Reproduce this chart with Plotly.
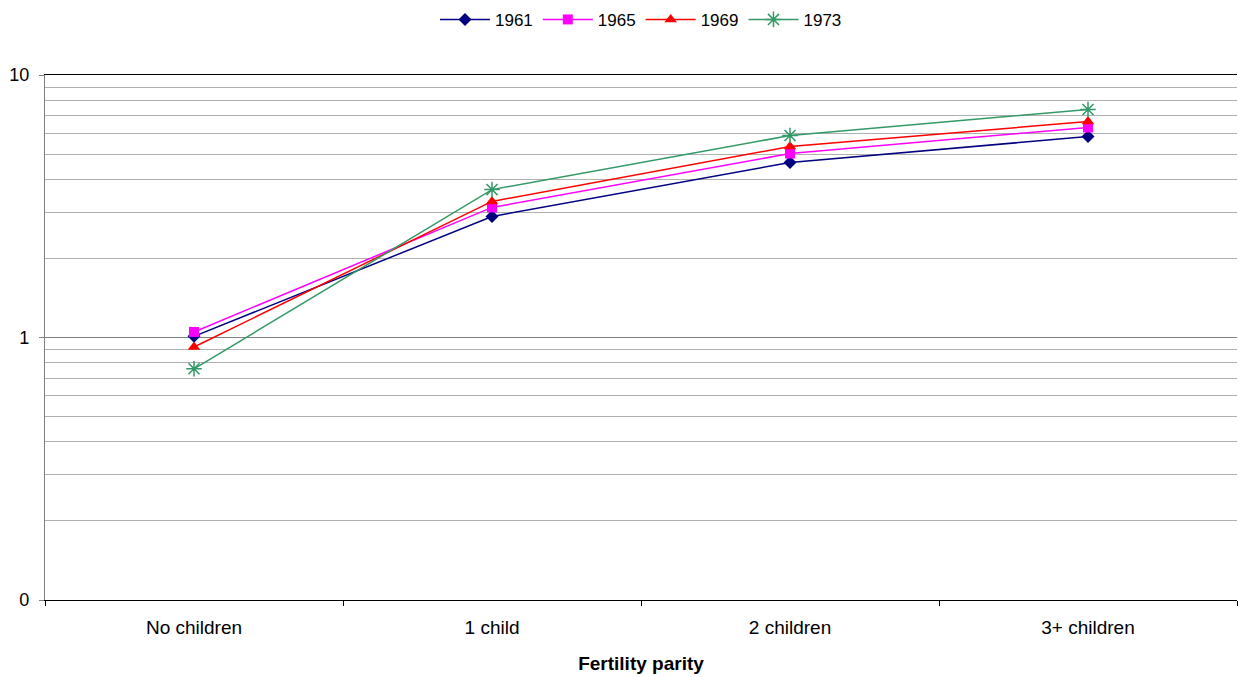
import plotly.graph_objects as go

categories = ["No children", "1 child", "2 children", "3+ children"]
series_names = ["1961", "1965", "1969", "1973"]
values_1961 = [1.01, 2.89, 4.64, 5.83]
values_1965 = [1.05, 3.13, 5.02, 6.31]
values_1969 = [0.92, 3.30, 5.34, 6.65]
values_1973 = [0.76, 3.66, 5.88, 7.39]
y_tickvals = [0.1, 1, 10]
y_ticktext = ["0", "1", "10"]
y_minor = [0.2, 0.3, 0.4, 0.5, 0.6, 0.7, 0.8, 0.9, 2, 3, 4, 5, 6, 7, 8, 9]

colors = ["#000080", "#FF00FF", "#FF0000", "#339966"]
symbols = ["diamond", "square", "triangle-up", "asterisk"]
sizes = [10, 10, 11, 13]
all_values = [values_1961, values_1965, values_1969, values_1973]

fig = go.Figure()
for name, vals, c, s, sz in zip(series_names, all_values, colors, symbols, sizes):
    marker = dict(symbol=s, size=sz, color=c)
    if s == "asterisk":
        marker["line"] = dict(color=c, width=1.5)
    fig.add_trace(go.Scatter(
        x=categories, y=vals, name=name, mode="lines+markers",
        line=dict(color=c, width=1.5), marker=marker,
    ))

fig.update_layout(
    width=1239, height=677,
    paper_bgcolor="white", plot_bgcolor="white",
    margin=dict(l=45, r=2, t=75, b=77, autoexpand=False),
    font=dict(family="Liberation Sans, Arial, sans-serif", size=17, color="black"),
    legend=dict(orientation="h", x=0.5, xanchor="center", y=1.105, yanchor="middle",
                font=dict(size=17), traceorder="normal", itemwidth=50),
    showlegend=True,
)
fig.update_xaxes(
    type="category", range=[-0.5, 3.5],
    showline=True, linecolor="black", linewidth=1.2, mirror=True,
    ticks="outside", tickson="boundaries", ticklen=5, tickcolor="black",
    ticklabelstandoff=10,
    showgrid=False, tickfont=dict(size=19),
    title=dict(text="<b>Fertility parity</b>", font=dict(size=19), standoff=19),
)
fig.update_yaxes(
    type="log", range=[-1, 1],
    tickvals=y_tickvals, ticktext=y_ticktext,
    showline=True, linecolor="#808080", linewidth=1.2,
    ticks="outside", ticklen=5, tickcolor="#808080",
    ticklabelstandoff=6,
    showgrid=True, gridcolor="#808080", gridwidth=1,
    zeroline=False, tickfont=dict(size=18),
    minor=dict(tickvals=y_minor, showgrid=True, gridcolor="#b0b0b0", gridwidth=1, ticks=""),
)

fig.write_html("out.html", config={"displayModeBar": False},
               post_script="document.body.style.margin='0';")
